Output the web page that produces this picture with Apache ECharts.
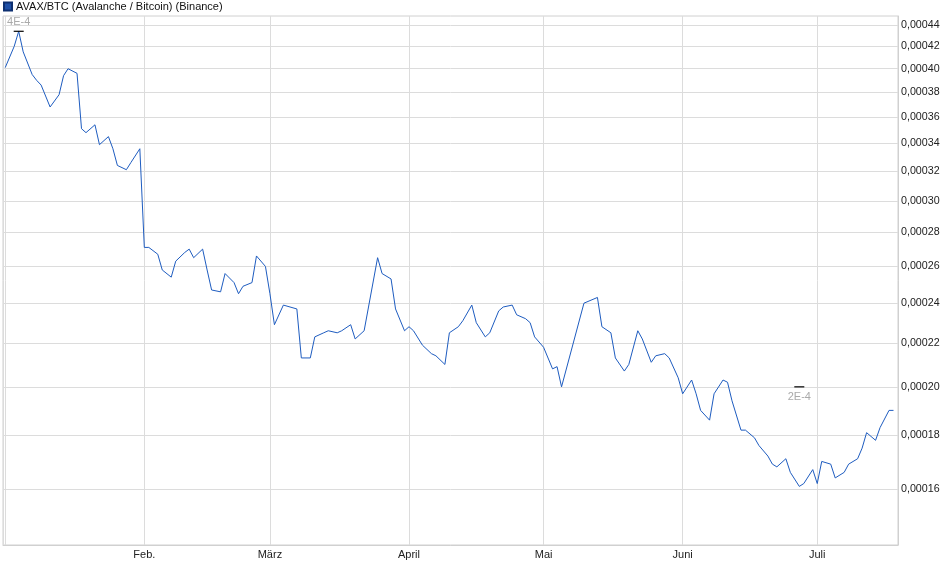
<!DOCTYPE html>
<html>
<head>
<meta charset="utf-8">
<script src="https://cdn.jsdelivr.net/npm/echarts@6/dist/echarts.min.js"></script>
<style>
html,body{margin:0;padding:0;background:#fff;}
#chart{width:940px;height:579px;}
</style>
</head>
<body>
<div id="chart"></div>
<script>
// Day offsets counted from 1 Jan 2025
const dayOffsets = [0,2,3,4,6,7,8,10,12,13,14,16,17,18,20,21,23,24,25,27,28,30,
  31,32,34,35,37,38,40,41,42,44,45,46,48,49,51,52,53,55,56,58,
  59,60,62,65,66,68,69,71,72,74,75,77,78,80,83,84,86,87,89,
  90,91,93,95,96,98,99,101,102,104,105,107,108,110,111,113,114,116,117,118,
  120,122,123,124,129,132,133,135,136,138,139,141,142,144,145,147,148,150,
  151,153,154,155,157,158,160,161,162,164,165,167,168,170,171,172,174,175,177,178,180,
  181,182,184,185,187,188,190,191,192,194,195,197,198];
const prices = [0.000401,0.000420,0.000434,0.000415,0.000395,0.000390,0.000386,0.000368,0.000378,0.000394,0.000400,0.000396,0.000351,0.000348,0.000354,0.000339,0.000345,0.000336,0.000324,0.000321,0.000326,0.000336,
  0.000271,0.000271,0.000267,0.000258,0.000254,0.000263,0.000268,0.000270,0.000265,0.000270,0.000258,0.000247,0.000246,0.000256,0.000251,0.000245,0.000249,0.000251,0.000266,0.000260,
  0.000245,0.000229,0.000239,0.000237,0.000213,0.000213,0.000223,0.000225,0.000226,0.000225,0.000226,0.000229,0.000222,0.000226,0.000265,0.000256,0.000253,0.000237,0.000226,
  0.000228,0.000226,0.000219,0.000215,0.000214,0.000210,0.000225,0.000228,0.000231,0.000239,0.000230,0.000223,0.000225,0.000236,0.000238,0.000239,0.000234,0.000232,0.000230,0.000223,
  0.000218,0.000208,0.000209,0.000200,0.000240,0.000243,0.000228,0.000225,0.000213,0.000207,0.000210,0.000226,0.000222,0.000211,0.000214,0.000215,0.000213,0.000204,
  0.000197,0.000203,0.000197,0.000190,0.000186,0.000197,0.000203,0.000202,0.000194,0.000182,0.000182,0.000179,0.000176,0.000172,0.000169,0.000168,0.000171,0.000166,0.000161,0.000162,0.000167,
  0.000162,0.000170,0.000169,0.000164,0.000166,0.000169,0.000171,0.000175,0.000181,0.000178,0.000183,0.000190,0.000190];
const yTicks = [0.00016,0.00018,0.00020,0.00022,0.00024,0.00026,0.00028,0.00030,0.00032,0.00034,0.00036,0.00038,0.00040,0.00042,0.00044];
const monthLabels = ['', 'Feb.', 'März', 'April', 'Mai', 'Juni', 'Juli', 'Aug.', 'Sep.', 'Okt.', 'Nov.', 'Dez.'];
const seriesName = 'AVAX/BTC (Avalanche / Bitcoin) (Binance)';

const toTime = d => new Date(2025, 0, 1 + d).getTime();
const data = dayOffsets.map((d, i) => [toTime(d), prices[i]]);

let minIdx = 0;
prices.forEach((p, i) => { if (p < prices[minIdx]) minIdx = i; });
const roundedMin = Number(prices[minIdx].toPrecision(1));
const fmtExp = v => Number(v).toExponential(0).toUpperCase().replace('+', '');

const FONT = '"Liberation Sans", Arial, sans-serif';
const chart = echarts.init(document.getElementById('chart'), null, {renderer: 'canvas'});
chart.setOption({
  animation: false,
  backgroundColor: '#fff',
  textStyle: {fontFamily: FONT},
  legend: {
    show: true, left: 3, top: 1, padding: 0,
    itemWidth: 8, itemHeight: 8, itemGap: 4, icon: 'rect',
    textStyle: {fontSize: 11, color: '#111', fontFamily: FONT, padding: [0, 0, 0, -1]},
    data: [seriesName]
  },
  grid: {left: 3, right: 42, top: 16, bottom: 34, show: true, borderColor: '#d0d0d0', borderWidth: 1, containLabel: false, outerBoundsMode: 'none'},
  xAxis: {
    type: 'time',
    min: new Date(2024, 11, 31, 12).getTime(),
    max: new Date(2025, 6, 19).getTime(),
    splitNumber: 7,
    minInterval: 28 * 86400000,
    maxInterval: 31 * 86400000,
    axisLine: {show: true, lineStyle: {color: '#d0d0d0'}},
    axisTick: {show: false},
    splitLine: {show: true, lineStyle: {color: '#dcdcdc', width: 1}},
    axisLabel: {
      color: '#222', fontSize: 11, fontFamily: FONT, margin: 4,
      showMinLabel: false, showMaxLabel: false, hideOverlap: false,
      formatter: function (value) {
        const dt = new Date(value);
        if (dt.getDate() !== 1 || dt.getHours() !== 0) return '';
        return monthLabels[dt.getMonth()];
      }
    }
  },
  yAxis: {
    type: 'log', logBase: 10, position: 'right',
    min: 0.0001417, max: 0.0004487,
    axisLine: {show: true, lineStyle: {color: '#d0d0d0'}},
    axisTick: {show: false, customValues: yTicks},
    splitLine: {show: true, lineStyle: {color: '#dcdcdc', width: 1}},
    axisLabel: {
      customValues: yTicks,
      color: '#222', fontSize: 10.7, fontFamily: FONT, margin: 3,
      formatter: v => Number(v).toFixed(5).replace('.', ',')
    }
  },
  series: [{
    name: seriesName,
    type: 'line',
    data: data,
    showSymbol: false,
    symbol: 'none',
    color: '#1e5cc0',
    lineStyle: {color: '#1e5cc0', width: 1},
    itemStyle: {color: '#1e4fa6', borderColor: '#0d2f70', borderWidth: 1},
    markPoint: {
      silent: true,
      symbol: 'rect',
      symbolSize: [10, 1.2],
      itemStyle: {color: '#000'},
      data: [
        {type: 'max', label: {show: true, position: 'top', distance: 3, color: '#aaa', fontSize: 11, fontFamily: FONT, formatter: p => fmtExp(p.value)}},
        {coord: [data[minIdx][0], roundedMin], value: roundedMin, label: {show: true, position: 'bottom', distance: 4, color: '#aaa', fontSize: 11, fontFamily: FONT, formatter: p => fmtExp(p.value)}}
      ]
    }
  }]
});
</script>
</body>
</html>
